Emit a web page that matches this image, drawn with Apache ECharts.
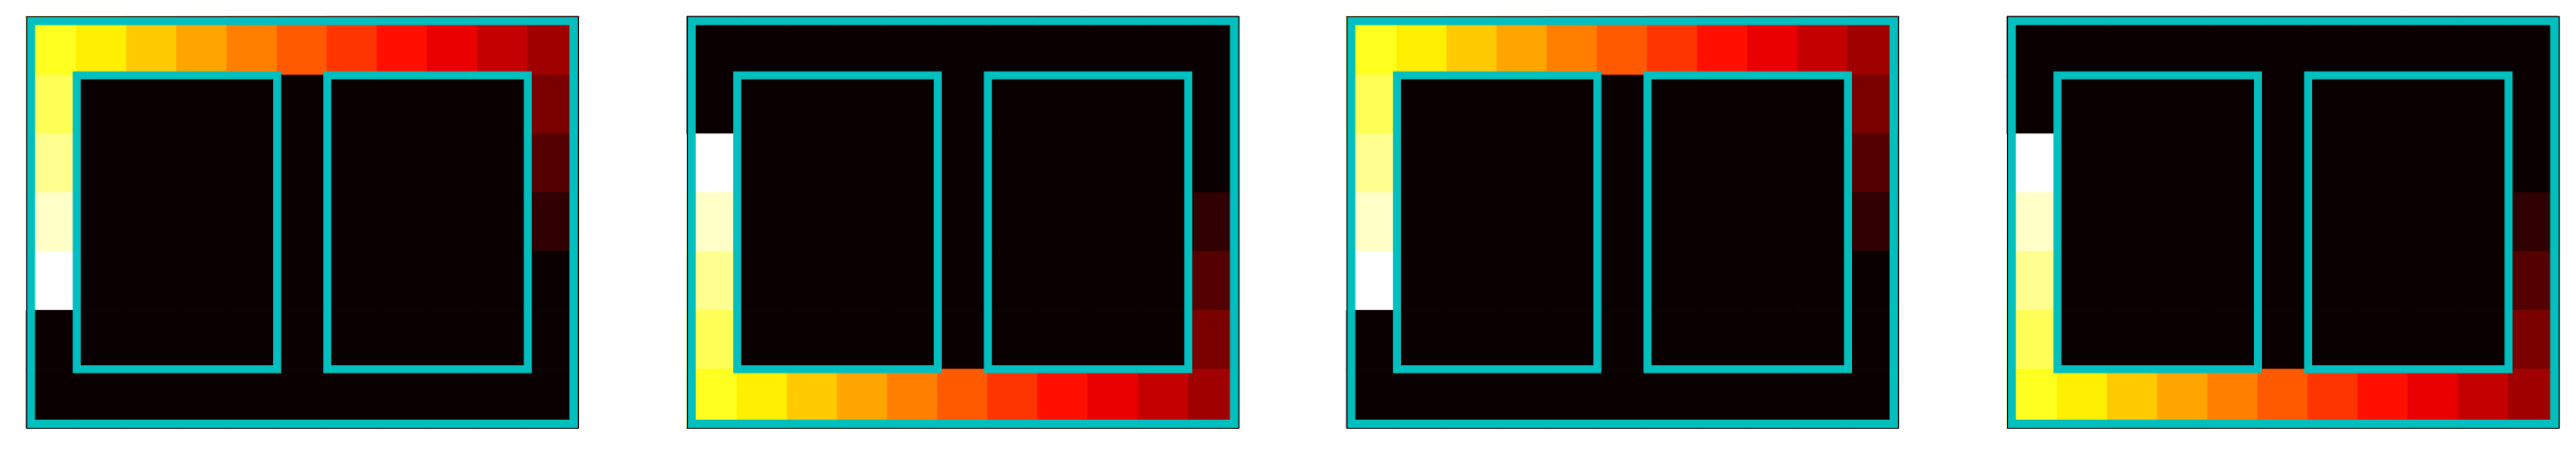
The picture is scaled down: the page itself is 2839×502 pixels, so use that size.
<!DOCTYPE html>
<html>
<head>
<meta charset="utf-8">
<script src="https://cdn.jsdelivr.net/npm/echarts@6/dist/echarts.min.js"></script>
<style>
  html, body { margin: 0; padding: 0; background: #fff; }
  #chart { width: 2839px; height: 502px; }
</style>
</head>
<body>
<div id="chart"></div>
<script>
// cell values, row 0 is the top row of the picture
var gridUp = [
  [14, 13, 12, 11, 10, 9, 8, 7, 6, 5, 4],
  [15, 0, 0, 0, 0, 0, 0, 0, 0, 0, 3],
  [16, 0, 0, 0, 0, 0, 0, 0, 0, 0, 2],
  [17, 0, 0, 0, 0, 0, 0, 0, 0, 0, 1],
  [18, 0, 0, 0, 0, 0, 0, 0, 0, 0, 0],
  [0, 0, 0, 0, 0, 0, 0, 0, 0, 0, 0],
  [0, 0, 0, 0, 0, 0, 0, 0, 0, 0, 0]
];
var gridDown = [
  [0, 0, 0, 0, 0, 0, 0, 0, 0, 0, 0],
  [0, 0, 0, 0, 0, 0, 0, 0, 0, 0, 0],
  [18, 0, 0, 0, 0, 0, 0, 0, 0, 0, 0],
  [17, 0, 0, 0, 0, 0, 0, 0, 0, 0, 1],
  [16, 0, 0, 0, 0, 0, 0, 0, 0, 0, 2],
  [15, 0, 0, 0, 0, 0, 0, 0, 0, 0, 3],
  [14, 13, 12, 11, 10, 9, 8, 7, 6, 5, 4]
];
var panels = [gridUp, gridDown, gridUp, gridDown];
var colLabels = ['0', '1', '2', '3', '4', '5', '6', '7', '8', '9', '10'];
var rowLabels = ['0', '1', '2', '3', '4', '5', '6'];
var valueMax = 18;
// rectangles in cell units: [x0, y0, x1, y1]
var boxes = [
  [-0.5, -0.5, 10.5, 6.5],
  [0.5, 0.5, 4.5, 5.5],
  [5.5, 0.5, 9.5, 5.5]
];

// matplotlib "hot" colour map
function hot(v) {
  var r = v < 0.365079 ? 0.0416 + v * (1 - 0.0416) / 0.365079 : 1;
  var g = v < 0.365079 ? 0 : (v < 0.746032 ? (v - 0.365079) / 0.380953 : 1);
  var b = v < 0.746032 ? 0 : (v - 0.746032) / 0.253968;
  return 'rgb(' + Math.round(r * 255) + ',' + Math.round(g * 255) + ',' + Math.round(b * 255) + ')';
}
var hotColors = [];
for (var k = 0; k <= valueMax; k++) hotColors.push(hot(k / valueMax));

var lefts = [29.3, 757.3, 1484.3, 2212.3];
var spine = { show: true, onZero: false, lineStyle: { color: '#000', width: 1.2 } };
var off = { show: false };

var grids = [], xAxes = [], yAxes = [], series = [], heatIdx = [];

panels.forEach(function (rows, i) {
  grids.push({ left: lefts[i], top: 18.3, width: 607.6, height: 454 });
  xAxes.push({ type: 'category', gridIndex: i, data: colLabels, position: 'bottom', z: 20,
    axisLine: spine, axisTick: off, axisLabel: off, splitLine: off });
  xAxes.push({ type: 'value', gridIndex: i, min: -0.5, max: 10.5, position: 'top', z: 20,
    axisLine: spine, axisTick: off, axisLabel: off, splitLine: off });
  yAxes.push({ type: 'category', gridIndex: i, data: rowLabels, inverse: true, position: 'left', z: 20,
    axisLine: spine, axisTick: off, axisLabel: off, splitLine: off });
  yAxes.push({ type: 'value', gridIndex: i, min: -0.5, max: 6.5, inverse: true, position: 'right', z: 20,
    axisLine: spine, axisTick: off, axisLabel: off, splitLine: off });

  var cells = [];
  rows.forEach(function (row, r) {
    row.forEach(function (v, c) {
      // thin border in the cell's own colour hides anti-aliasing seams
      cells.push({ value: [c, r, v], itemStyle: { borderColor: hot(v / valueMax), borderWidth: 0.8 } });
    });
  });
  heatIdx.push(series.length);
  series.push({
    type: 'heatmap', xAxisIndex: 2 * i, yAxisIndex: 2 * i, data: cells,
    silent: true, z: 1, emphasis: { disabled: true }
  });
  series.push({
    type: 'custom', xAxisIndex: 2 * i + 1, yAxisIndex: 2 * i + 1, data: boxes,
    encode: { x: [0, 2], y: [1, 3] }, clip: false, silent: true, z: 10,
    renderItem: function (params, api) {
      var p0 = api.coord([api.value(0), api.value(1)]);
      var p1 = api.coord([api.value(2), api.value(3)]);
      var frame = params.dataIndex === 0;
      var lw = frame ? 9.4 : 8.8;
      // the frame sits just inside the plot edge, like a clipped thick line
      var inset = frame ? lw / 2 : 0;
      return {
        type: 'rect',
        shape: {
          x: Math.min(p0[0], p1[0]) + inset, y: Math.min(p0[1], p1[1]) + inset,
          width: Math.abs(p1[0] - p0[0]) - 2 * inset, height: Math.abs(p1[1] - p0[1]) - 2 * inset
        },
        style: { fill: 'none', stroke: '#00bfbf', lineWidth: lw }
      };
    }
  });
});

var chart = echarts.init(document.getElementById('chart'));
chart.setOption({
  animation: false,
  backgroundColor: '#fff',
  grid: grids,
  xAxis: xAxes,
  yAxis: yAxes,
  visualMap: {
    show: false, min: 0, max: valueMax, seriesIndex: heatIdx,
    inRange: { color: hotColors }
  },
  series: series
});
</script>
</body>
</html>
